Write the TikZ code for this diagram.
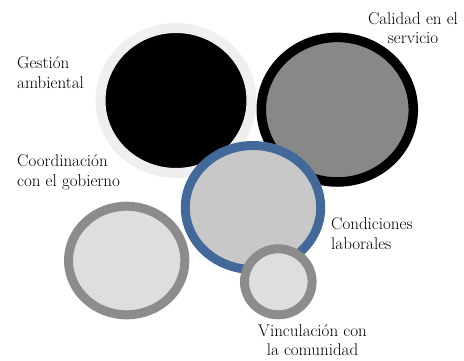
\documentclass[tikz,border=0pt]{standalone}
\usepackage{fontspec}
\definecolor{ringlight}{HTML}{EFEFEF}
\definecolor{fillmid}{HTML}{888888}
\definecolor{ringblue}{HTML}{43699A}
\definecolor{fillblue}{HTML}{C8C8C8}
\definecolor{ringgray}{HTML}{8C8C8C}
\definecolor{filllight}{HTML}{DEDEDE}
\tikzset{
  lbl/.style={inner sep=0pt, font=\fontsize{17}{19.5}\selectfont, text=black},
}
\begin{document}
\begin{tikzpicture}[x=1pt,y=-1pt]
\useasboundingbox (0,0) rectangle (464,360);
% circle 1
\draw[line width=10pt, draw=ringlight, fill=black] (176,100.5) ellipse [x radius=75.5, y radius=72.5];
% circle 2
\draw[line width=9.5pt, draw=black, fill=fillmid] (337.3,109.7) ellipse [x radius=76, y radius=72.3];
% circle 4
\draw[line width=9pt, draw=ringgray, fill=filllight] (126.7,260.5) ellipse [x radius=58.2, y radius=54.3];
% circle 3
\draw[line width=9pt, draw=ringblue, fill=fillblue] (253,207.5) ellipse [x radius=67.7, y radius=62];
% circle 5
\draw[line width=9pt, draw=ringgray, fill=filllight] (278.3,281.8) ellipse [x radius=33.8, y radius=33];
% labels
\node[lbl, anchor=west, align=left] (gest) at (17,72.5) {Gestión\\ambiental};
\node[lbl, anchor=center, align=center] (cal) at (413,28) {Calidad en el\\servicio};
\node[lbl, anchor=west, align=left] (coord) at (17,172.5) {Coordinación\\con el gobierno};
\node[lbl, anchor=west, align=left] (cond) at (331,233.5) {Condiciones\\laborales};
\node[lbl, anchor=center, align=center] (vinc) at (312.5,340) {Vinculación con\\la comunidad};
\end{tikzpicture}
\end{document}
